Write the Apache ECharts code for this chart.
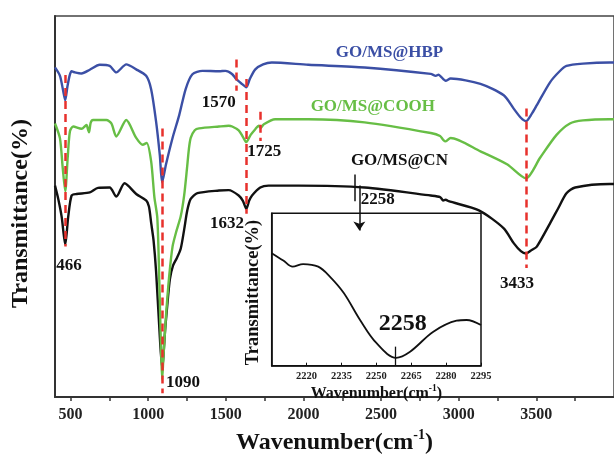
<!DOCTYPE html>
<html>
<head>
<meta charset="utf-8">
<script src="https://cdn.jsdelivr.net/npm/echarts@6/dist/echarts.min.js"></script>
<style>
  html, body { margin: 0; padding: 0; background: #fff; }
  #c { width: 614px; height: 460px; }
</style>
</head>
<body>
<div id="c"></div>
<script>
// FT-IR spectra: [wavenumber (cm-1), relative transmittance]
const hbp = [
  [400,86.5],[432,84.3],[452,80.5],[466,77.9],[480,81.5],[495,84.5],[507,85.5],[528,85.2],
  [571,84.9],[624,85.9],[688,87.2],[752,86.9],[795,85.2],[859,87.3],[923,86.0],[987,84.3],
  [1019,80.8],[1051,72.3],[1075,63.5],[1090,56.3],[1115,61.1],[1157,68.0],[1200,74.0],
  [1242,80.9],[1285,84.7],[1349,85.6],[1456,85.5],[1498,85.6],[1540,84.8],[1566,83.5],
  [1600,82.3],[1632,81.3],[1655,83.5],[1690,86.0],[1740,87.3],[1796,87.8],[2031,87.2],
  [2394,86.5],[2820,84.8],[2852,84.3],[2870,84.6],[2885,84.1],[2916,83.0],[2948,83.6],
  [3140,82.2],[3290,79.2],[3354,75.7],[3400,73.3],[3433,72.4],[3470,74.3],[3503,76.6],
  [3588,82.6],[3650,85.5],[3694,86.9],[3800,87.5],[3971,87.8],[4000,87.8]
];
const cooh = [
  [400,71.8],[432,67.9],[450,60.0],[466,54.0],[482,63.0],[496,69.7],[517,71.0],[571,70.4],
  [603,71.4],[612,70.3],[619,69.5],[630,72.0],[645,72.7],[731,72.7],[763,71.8],[795,68.4],
  [859,72.7],[923,68.0],[965,66.2],[990,66.7],[1019,61.9],[1040,52.5],[1059,47.0],
  [1072,30.0],[1082,14.0],[1090,4.5],[1098,10.3],[1115,21.4],[1136,32.0],[1157,39.5],
  [1178,43.0],[1210,47.5],[1232,53.0],[1250,60.0],[1262,65.0],[1274,68.0],[1300,70.0],
  [1328,70.5],[1456,71.0],[1519,71.2],[1541,71.0],[1583,70.0],[1610,68.3],[1632,66.9],
  [1660,68.8],[1690,70.3],[1712,71.2],[1725,70.6],[1745,71.6],[1818,72.9],[2031,72.9],
  [2394,72.1],[2820,69.3],[2880,68.5],[2900,67.5],[2916,67.1],[2948,68.0],[3140,64.5],
  [3311,61.1],[3433,57.4],[3524,62.8],[3630,68.8],[3716,71.8],[3800,72.6],[3971,72.9],
  [4000,72.9]
];
const cn = [
  [400,55.5],[421,52.0],[443,47.3],[466,40.0],[485,47.3],[507,52.9],[539,53.3],[624,53.7],
  [677,54.9],[752,55.0],[795,52.6],[848,56.1],[923,53.3],[987,51.6],[1005,50.0],
  [1020,45.5],[1035,41.0],[1051,33.0],[1072,18.0],[1090,7.5],[1110,18.0],[1125,25.0],
  [1140,31.0],[1160,34.5],[1185,36.5],[1210,39.0],[1232,44.0],[1252,49.0],[1274,52.0],
  [1317,53.5],[1456,54.2],[1519,54.3],[1583,52.9],[1610,51.5],[1632,49.4],[1650,51.5],
  [1669,52.9],[1722,55.0],[1775,55.5],[1967,55.5],[2394,55.0],[2820,52.9],[2880,52.5],
  [2900,51.6],[2916,51.8],[2935,51.4],[3130,49.0],[3290,44.3],[3354,40.4],[3400,38.3],
  [3433,37.7],[3470,38.6],[3503,39.5],[3588,45.6],[3640,49.5],[3694,53.5],[3750,55.0],
  [3971,55.9],[4000,55.9]
];
// enlarged C≡N region of GO/MS@CN
const cnZoom = [
  [2205,73.8],[2210,69.0],[2214,65.0],[2218.5,66.7],[2225,65.0],[2230,58.5],[2236,47.7],
  [2243,30.0],[2250,14.9],[2258.5,5.2],[2264.5,9.2],[2274.5,22.3],[2284.5,29.5],
  [2288.8,30.0],[2295,26.7]
];

const mainTicks = [500,750,1000,1250,1500,1750,2000,2250,2500,2750,3000,3250,3500,3750];
const mainLabels = [500,1000,1500,2000,2500,3000,3500];
const zoomLabels = [2220,2235,2250,2265,2280,2295];

// peak markers: [wavenumber, top, bottom]
const peakLines = [
  [466,84.5,39.5],[1090,70.5,1.0],[1570,88.6,80.4],[1632,83.5,48.1],[1725,74.9,67.2],[3433,75.7,33.9]
];
// peak captions: [text, wavenumber, transmittance]
const peakCaptions = [
  ['466',490,34.6],['1090',1225,3.9],['1570',1455,77.3],['1632',1507,45.5],
  ['1725',1747,64.3],['3433',3375,29.7]
];
const seriesNames = ['GO/MS@HBP','GO/MS@COOH','GO/MS@CN'];
const seriesColors = ['#3b4fa5','#67be45','#111111'];
const nameSpots = [[2554,90.4],[2447,76.2],[2618,62.0]];

const SERIF = '"Liberation Serif", "Times New Roman", serif';
const RED = '#e8312c';

const chart = echarts.init(document.getElementById('c'), null, { renderer: 'canvas' });

const lineSeries = (name, data, color, z) => ({
  name, type: 'line', data, xAxisIndex: 0, yAxisIndex: 0,
  showSymbol: false, symbol: 'none', smooth: 0.25, z,
  lineStyle: { color, width: 2.4 }
});

const option = {
  animation: false,
  backgroundColor: '#fff',
  grid: [
    { left: 55, top: 16, width: 563, height: 387, show: true, borderColor: '#444', borderWidth: 1.5, backgroundColor: 'transparent' },
    { left: 271.7, top: 213.3, width: 209.3, height: 152.4, show: true, borderColor: '#111', borderWidth: 1.5, backgroundColor: '#fff' }
  ],
  xAxis: [
    {
      gridIndex: 0, type: 'value', min: 400, max: 4000,
      axisLine: { show: true, lineStyle: { color: '#333', width: 2 } },
      axisTick: { show: true, customValues: mainTicks, length: 4, inside: false, lineStyle: { color: '#333', width: 1.5 } },
      axisLabel: {
        customValues: mainLabels, fontFamily: SERIF, fontWeight: 'bold', fontSize: 16, color: '#222', margin: 10,
        formatter: v => String(v)
      },
      splitLine: { show: false },
      name: '{t|Wavenumber(cm}{s|-1}{t|)}',
      nameLocation: 'middle', nameGap: 24,
      nameTextStyle: {
        rich: {
          t: { fontFamily: SERIF, fontWeight: 'bold', fontSize: 24, color: '#111', lineHeight: 27, verticalAlign: 'bottom' },
          s: { fontFamily: SERIF, fontWeight: 'bold', fontSize: 14, color: '#111', lineHeight: 14, verticalAlign: 'top' }
        }
      }
    },
    {
      gridIndex: 1, type: 'value', min: 2205, max: 2295, interval: 15,
      axisLine: { show: true, lineStyle: { color: '#111', width: 1.5 } },
      axisTick: { show: true, inside: true, length: 3, lineStyle: { color: '#111', width: 1 } },
      axisLabel: {
        fontFamily: SERIF, fontWeight: 'bold', fontSize: 10.5, color: '#222', margin: 5,
        formatter: v => (zoomLabels.indexOf(v) >= 0 ? String(v) : '')
      },
      splitLine: { show: false },
      name: '{t|Wavenumber(cm}{s|-1}{t|)}',
      nameLocation: 'middle', nameGap: 18,
      nameTextStyle: {
        rich: {
          t: { fontFamily: SERIF, fontWeight: 'bold', fontSize: 16, color: '#111', lineHeight: 18, verticalAlign: 'bottom' },
          s: { fontFamily: SERIF, fontWeight: 'bold', fontSize: 9.5, color: '#111', lineHeight: 9.5, verticalAlign: 'top' }
        }
      }
    }
  ],
  yAxis: [
    {
      gridIndex: 0, type: 'value', min: 0, max: 100,
      axisLine: { show: true, lineStyle: { color: '#333', width: 2 } },
      axisTick: { show: false }, axisLabel: { show: false }, splitLine: { show: false },
      name: 'Transmittance(%)', nameLocation: 'middle', nameGap: 22, nameRotate: 90,
      nameTextStyle: { fontFamily: SERIF, fontWeight: 'bold', fontSize: 24, color: '#111', padding: [0, 14, 0, 0] }
    },
    {
      gridIndex: 1, type: 'value', min: 0, max: 100,
      axisLine: { show: true, lineStyle: { color: '#111', width: 1.5 } },
      axisTick: { show: false }, axisLabel: { show: false }, splitLine: { show: false },
      name: 'Transmittance(%)', nameLocation: 'middle', nameGap: 9, nameRotate: 90,
      nameTextStyle: { fontFamily: SERIF, fontWeight: 'bold', fontSize: 18.5, color: '#111', padding: [0, 6, 0, 0] }
    }
  ],
  series: [
    lineSeries(seriesNames[2], cn, seriesColors[2], 2),
    lineSeries(seriesNames[1], cooh, seriesColors[1], 3),
    lineSeries(seriesNames[0], hbp, seriesColors[0], 4),
    {
      name: 'peaks', type: 'line', data: [], xAxisIndex: 0, yAxisIndex: 0, z: 10, silent: true,
      markLine: {
        symbol: 'none', silent: true, animation: false, label: { show: false },
        lineStyle: { color: RED, type: [8, 5], width: 2.5 },
        data: peakLines.map(([w, a, b]) => [{ coord: [w, a] }, { coord: [w, b] }])
      }
    },
    {
      name: 'pointer', type: 'line', data: [], xAxisIndex: 0, yAxisIndex: 0, z: 10, silent: true,
      markLine: {
        silent: true, animation: false, label: { show: false },
        lineStyle: { color: '#111', type: 'solid', width: 1.5 },
        data: [
          [{ coord: [2330, 58.4], symbol: 'none' }, { coord: [2330, 51.4], symbol: 'none' }],
          [{ coord: [2360, 55.5], symbol: 'none' }, { coord: [2360, 43.7], symbol: 'arrow', symbolSize: 9 }]
        ]
      }
    },
    {
      name: 'C≡N', type: 'line', data: cnZoom, xAxisIndex: 1, yAxisIndex: 1,
      showSymbol: false, symbol: 'none', smooth: 0.35, z: 6,
      lineStyle: { color: '#111', width: 1.8 },
      markLine: {
        symbol: 'none', silent: true, animation: false, label: { show: false },
        lineStyle: { color: '#111', type: 'solid', width: 1.3 },
        data: [[{ coord: [2258, 12.5] }, { coord: [2258, 0] }]]
      }
    }
  ]
};

chart.setOption(option);

// captions placed in data space
const toPx = (gi, p) => chart.convertToPixel({ gridIndex: gi }, p);
const label = (text, p, size, color) => ({
  type: 'text', z: 100, silent: true,
  style: {
    text, x: p[0], y: p[1], fill: color,
    font: 'bold ' + size + 'px ' + SERIF,
    align: 'center', verticalAlign: 'middle', textAlign: 'center', textVerticalAlign: 'middle'
  }
});
const graphics = [];
peakCaptions.forEach(([t, w, v]) => graphics.push(label(t, toPx(0, [w, v]), 17, '#111')));
seriesNames.forEach((n, i) => graphics.push(label(n, toPx(0, nameSpots[i]), 17, seriesColors[i])));
graphics.push(label('2258', toPx(0, [2479, 51.7]), 17, '#111'));
graphics.push(label('2258', toPx(1, [2261.3, 27.4]), 24, '#111'));
chart.setOption({ graphic: graphics });
</script>
</body>
</html>
